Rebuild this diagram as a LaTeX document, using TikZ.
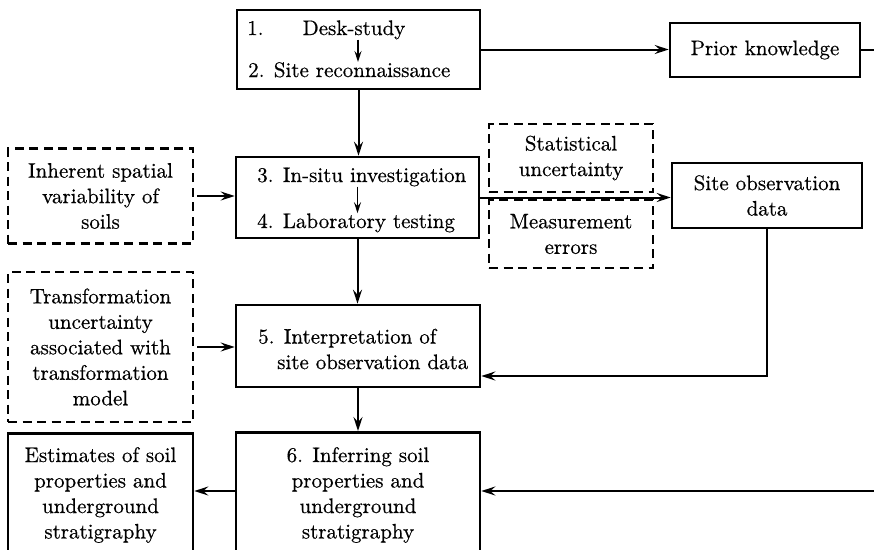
\documentclass[tikz,border=0pt]{standalone}
\usepackage{fontspec}
\setmainfont{lmroman10-regular}[Extension=.otf, FakeBold=0.5]
\usetikzlibrary{arrows.meta}
\begin{document}
\begin{tikzpicture}[x=1pt,y=-1pt,
  every node/.style={font=\fontsize{21}{25.5}\selectfont},
  box/.style={draw, line width=2.6pt, inner sep=0pt, align=center},
  dbox/.style={draw, line width=2.6pt, inner sep=0pt, align=center, dash pattern=on 9pt off 5.5pt},
  txt/.style={inner sep=0pt},
  arr/.style={line width=2pt, -{Stealth[length=14pt,width=9pt,inset=5pt]}},
  sarr/.style={line width=1.8pt, -{Stealth[length=11pt,width=7pt,inset=4pt]}},
  ln/.style={line width=2pt}]
\useasboundingbox (0,0) rectangle (874,549);
\clip (0,0) rectangle (874,549);
% box 1-2
\node[box, minimum width=243pt, minimum height=79pt] (b12) at (358.5,49.5) {};
\node[txt, anchor=base west] (n1) at (247,35) {1.};
\node[txt, anchor=base] (ds) at (354,35) {Desk-study};
\node[txt, anchor=base west] (sr) at (248,77) {2. Site reconnaissance};
\draw[sarr] ([xshift=4pt]ds.south) -- ([xshift=4pt]ds.south |- sr.north);
% prior knowledge
\node[box, minimum width=190pt, minimum height=54pt] (pk) at (765,50) {Prior knowledge};
\coordinate (edgeA) at (874,50);
\draw[arr] (b12.east) -- (b12.east -| pk.west);
\draw[ln] (pk.east) -- (edgeA);
% box 3-4
\node[box, minimum width=243pt, minimum height=81pt] (b34) at (357.5,197.5) {};
\node[txt, anchor=base west] (t3) at (257,182) {3. In-situ investigation};
\node[txt, anchor=base west] (t4) at (257,228) {4. Laboratory testing};
\draw[sarr] (t3.south -| b34.north) -- (t4.north -| b34.north);
\draw[arr] (b12.south) -- (b12.south |- b34.north);
% inherent
\node[dbox, minimum width=185pt, minimum height=95pt] (inh) at (100.5,196) {Inherent spatial\\variability of\\soils};
\draw[arr] ([xshift=3pt]inh.east) -- (inh.east -| b34.west);
% statistical / measurement
\node[dbox, minimum width=164pt, minimum height=68pt] (st) at (571,158) {Statistical\\uncertainty};
\node[dbox, minimum width=164pt, minimum height=68pt] (me) at (571,234) {Measurement\\errors};
% site observation
\node[box, minimum width=190pt, minimum height=65pt] (so) at (767,195.5) {Site observation\\data};
\draw[arr] (b34.east) -- (b34.east -| so.west);
% box 5
\node[box, minimum width=244pt, minimum height=82pt] (b5) at (358,346) {};
\node[txt, anchor=west, align=left] (t5) at (258,349) {5. Interpretation of\\\hspace*{19pt}site observation data};
\draw[arr] (b34.south) -- (b34.south |- b5.north);
\draw[arr] (so.south) |- ([yshift=-30pt]b5.east);
% transformation
\node[dbox, minimum width=185pt, minimum height=150pt] (tr) at (100.5,347) {Transformation\\uncertainty\\associated with\\transformation\\model};
\draw[arr] ([xshift=3pt]tr.east) -- (tr.east -| b5.west);
% box 6
\node[box, minimum width=244pt, minimum height=140pt, anchor=north] (b6) at (358,431) {};
\node[txt, align=center] (t6) at (358,495) {6. Inferring soil\\properties and\\underground\\stratigraphy};
\draw[arr] (b5.south) -- (b5.south |- b6.north);
% estimates
\node[box, minimum width=185pt, minimum height=140pt, anchor=north] (es) at (100.5,432) {};
\node[txt, align=center] (te) at (100.5,495) {Estimates of soil\\properties and\\underground\\stratigraphy};
\coordinate (rowy) at (0,491);
\coordinate (edgeB) at (874,491);
\draw[arr] (b6.west |- rowy) -- (es.east |- rowy);
\draw[arr] (edgeB) -- (edgeB -| b6.east);
\end{tikzpicture}
\end{document}
